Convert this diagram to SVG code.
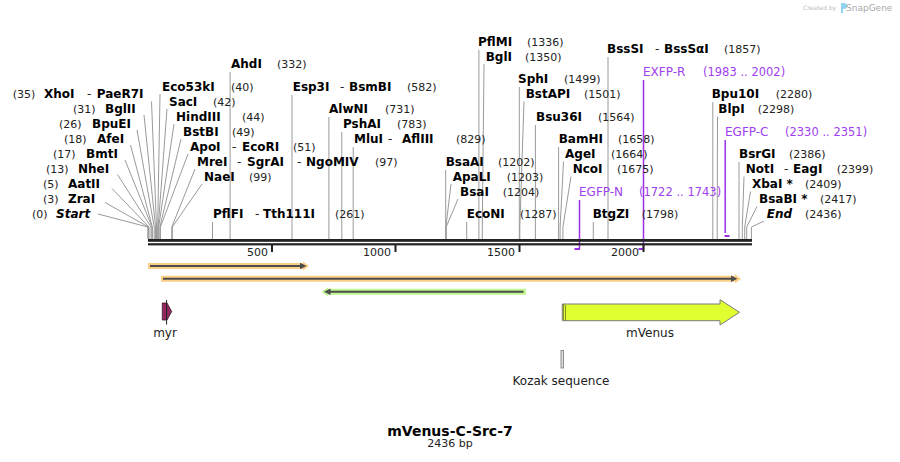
<svg xmlns="http://www.w3.org/2000/svg" width="900" height="462" viewBox="0 0 900 462">
<style>
text{font-family:"DejaVu Sans",Verdana,sans-serif}
.n{font-size:12px;font-weight:bold;fill:#000}
.i{font-style:italic}
.p{font-size:11px;fill:#222}
.d{font-size:12px;fill:#222}
.pr{font-size:12px;fill:#a040f0}
.prn{font-size:11.5px;fill:#a040f0}
.f{font-size:12px;fill:#222;text-anchor:middle}
.s{font-size:11px;fill:#222;text-anchor:end}
.ld{stroke:#9a9a9a;stroke-width:1;fill:none}
.pl{stroke:#9b30e8;stroke-width:1.5;fill:none}
.pb{fill:#9b30e8}
.bb{fill:#222}
.tk{stroke:#222;stroke-width:2}
.ob{fill:#fccf86}
.gb{fill:#c0f590}
.dk{stroke:#4d4d4d;stroke-width:2;fill:none}
.dkh{fill:#4d4d4d}
</style>
<rect x="0" y="0" width="900" height="462" fill="#fff"/>

<g id="logo">
<text x="803" y="10" style="font-size:6px;fill:#bbb">Created by</text>
<path d="M841,3 h3 a3,3 0 0 1 0,6 h-1 v4 h-2 z" fill="#8fd3f2"/>
<text x="846" y="11" style="font-size:9px;fill:#aaa">SnapGene</text>
</g>

<g id="connectors">
<!-- left cluster leaders -->
<path class="ld" d="M151.5,101.5 L156.5,227 M144,115 L155.5,227 M137,130 L154.2,227 M130.5,145 L152.3,227 M125,160 L152,227 M117.5,174.5 L151,227 M112,188.5 L149,227 M105,202.5 L148.5,227 M98,214 L147.8,227"/>
<path class="ld" d="M160,94 L157.7,227 M167,109 L158.2,227 M174,124 L158.7,227 M181,139 L159.9,227 M188,154 L160.4,227 M195,169 L171.8,227 M202,184 L172.3,227"/>
<path class="ld" d="M147.8,227V239 M148.5,227V239 M149,227V239 M151,227V239 M152,227V239 M152.3,227V239 M154.2,227V239 M155.5,227V239 M156.5,227V239 M157.7,227V239 M158.2,227V239 M158.7,227V239 M159.9,227V239 M160.4,227V239 M171.8,227V239 M172.3,227V239"/>
<!-- single verticals -->
<path class="ld" d="M212.5,222V239 M230.1,72V239 M292,95V239 M328.9,117V239 M341.8,132V239 M353.2,147V239 M445.7,170V239 M466.7,222V239 M478.9,50V239 M519.3,87V239 M535.4,125V239 M558.6,147V239 M593.3,222V239 M608,57V239 M712.8,102V239 M739,162V239"/>
<!-- middle / right leaders -->
<path class="ld" d="M451,184 L445.9,227 M458,199 L446.2,227 M445.9,227V239 M446.2,227V239"/>
<path class="ld" d="M484,64 L482.3,227 M482.3,227V239 M524,101.5 L519.8,227 M519.8,227V239"/>
<path class="ld" d="M563.5,161.5 L560.1,227 M571,176.5 L562.9,227 M560.1,227V239 M562.9,227V239"/>
<path class="ld" d="M717.5,116.5 L717.2,227 M717.2,227V239 M744,176.5 L742.3,227 M750.5,191.5 L744.7,227 M757,206.5 L746.7,227 M764,221 L751.4,227 M742.3,227V239 M744.7,227V239 M746.7,227V239 M751.4,227V239"/>
<!-- primers -->
<path class="pl" d="M579.5,200V249 M643.5,80V249 M725.2,140V233"/>
<rect class="pb" x="574.5" y="248" width="5.5" height="2"/>
<rect class="pb" x="638.5" y="248" width="5.5" height="2"/>
<rect class="pb" x="724.5" y="235" width="5" height="2"/>
</g>

<g id="backbone">
<rect class="bb" x="148" y="239" width="604" height="2.8"/>
<rect class="bb" x="148" y="243.2" width="604" height="2.2"/>
<line class="tk" x1="272" y1="245" x2="272" y2="252"/>
<line class="tk" x1="395.5" y1="245" x2="395.5" y2="252"/>
<line class="tk" x1="519.5" y1="245" x2="519.5" y2="252"/>
<line class="tk" x1="643.5" y1="245" x2="643.5" y2="252"/>
<text class="s" x="268" y="256">500</text>
<text class="s" x="391" y="256">1000</text>
<text class="s" x="515" y="256">1500</text>
<text class="s" x="639" y="256">2000</text>
</g>

<!-- left column labels -->
<g id="site-xhoi"><text class="p" x="12.7" y="98.3">(35)</text><text class="n" x="44" y="98.3">XhoI</text><text class="d" x="87" y="98.3">-</text><text class="n" x="96.7" y="98.3">PaeR7I</text></g>
<g id="site-bglii"><text class="p" x="73" y="113.3">(31)</text><text class="n" x="105" y="113.3">BglII</text></g>
<g id="site-bpuei"><text class="p" x="59" y="128.3">(26)</text><text class="n" x="92" y="128.3">BpuEI</text></g>
<g id="site-afei"><text class="p" x="64" y="143.3">(18)</text><text class="n" x="97" y="143.3">AfeI</text></g>
<g id="site-bmti"><text class="p" x="53" y="158.3">(17)</text><text class="n" x="86" y="158.3">BmtI</text></g>
<g id="site-nhei"><text class="p" x="46" y="173.3">(13)</text><text class="n" x="78" y="173.3">NheI</text></g>
<g id="site-aatii"><text class="p" x="43" y="188.3">(5)</text><text class="n" x="68" y="188.3">AatII</text></g>
<g id="site-zrai"><text class="p" x="43" y="203.3">(3)</text><text class="n" x="68" y="203.3">ZraI</text></g>
<g id="site-start"><text class="p" x="32" y="218.3">(0)</text><text class="n i" x="56" y="218.3">Start</text></g>

<!-- right of left cluster -->
<g id="site-eco53ki"><text class="n" x="162" y="90.8">Eco53kI</text><text class="p" x="231" y="90.8">(40)</text></g>
<g id="site-saci"><text class="n" x="169" y="105.8">SacI</text><text class="p" x="213" y="105.8">(42)</text></g>
<g id="site-hindiii"><text class="n" x="176" y="120.8">HindIII</text><text class="p" x="242" y="120.8">(44)</text></g>
<g id="site-bstbi"><text class="n" x="183" y="135.8">BstBI</text><text class="p" x="232" y="135.8">(49)</text></g>
<g id="site-apoi"><text class="n" x="190" y="150.8">ApoI</text><text class="d" x="232" y="150.8">-</text><text class="n" x="242" y="150.8">EcoRI</text><text class="p" x="293" y="150.8">(51)</text></g>
<g id="site-mrei"><text class="n" x="197" y="165.8">MreI</text><text class="d" x="237" y="165.8">-</text><text class="n" x="247" y="165.8">SgrAI</text><text class="d" x="297" y="165.8">-</text><text class="n" x="306" y="165.8">NgoMIV</text><text class="p" x="375" y="165.8">(97)</text></g>
<g id="site-naei"><text class="n" x="204" y="180.8">NaeI</text><text class="p" x="249" y="180.8">(99)</text></g>

<g id="site-ahdi"><text class="n" x="231" y="68.3">AhdI</text><text class="p" x="277" y="68.3">(332)</text></g>
<g id="site-esp3i"><text class="n" x="292.7" y="90.8">Esp3I</text><text class="d" x="340" y="90.8">-</text><text class="n" x="349" y="90.8">BsmBI</text><text class="p" x="407" y="90.8">(582)</text></g>
<g id="site-alwni"><text class="n" x="329" y="113.3">AlwNI</text><text class="p" x="385" y="113.3">(731)</text></g>
<g id="site-pshai"><text class="n" x="343" y="128.3">PshAI</text><text class="p" x="397" y="128.3">(783)</text></g>
<g id="site-mlui"><text class="n" x="354" y="143.3">MluI</text><text class="d" x="388" y="143.3">-</text><text class="n" x="402" y="143.3">AflIII</text><text class="p" x="456" y="143.3">(829)</text></g>
<g id="site-pflfi"><text class="n" x="213" y="218.3">PflFI</text><text class="d" x="255" y="218.3">-</text><text class="n" x="263" y="218.3">Tth111I</text><text class="p" x="335" y="218.3">(261)</text></g>

<!-- middle -->
<g id="site-pflmi"><text class="n" x="478" y="45.8">PflMI</text><text class="p" x="527" y="45.8">(1336)</text></g>
<g id="site-bgli"><text class="n" x="485.7" y="60.8">BglI</text><text class="p" x="525" y="60.8">(1350)</text></g>
<g id="site-sphi"><text class="n" x="518" y="83.3">SphI</text><text class="p" x="564" y="83.3">(1499)</text></g>
<g id="site-bstapi"><text class="n" x="525.7" y="98.3">BstAPI</text><text class="p" x="584" y="98.3">(1501)</text></g>
<g id="site-bsu36i"><text class="n" x="536" y="120.8">Bsu36I</text><text class="p" x="598" y="120.8">(1564)</text></g>
<g id="site-bamhi"><text class="n" x="558.7" y="143.3">BamHI</text><text class="p" x="618" y="143.3">(1658)</text></g>
<g id="site-agei"><text class="n" x="565" y="158.3">AgeI</text><text class="p" x="611" y="158.3">(1664)</text></g>
<g id="site-ncoi"><text class="n" x="572.7" y="173.3">NcoI</text><text class="p" x="617" y="173.3">(1675)</text></g>
<g id="site-btgzi"><text class="n" x="592.7" y="218.3">BtgZI</text><text class="p" x="641.7" y="218.3">(1798)</text></g>
<g id="site-bsssi"><text class="n" x="607" y="53.3">BssSI</text><text class="d" x="655" y="53.3">-</text><text class="n" x="664" y="53.3">BssSαI</text><text class="p" x="724" y="53.3">(1857)</text></g>
<g id="site-bsaai"><text class="n" x="445.7" y="165.8">BsaAI</text><text class="p" x="498" y="165.8">(1202)</text></g>
<g id="site-apali"><text class="n" x="452.7" y="180.8">ApaLI</text><text class="p" x="506.7" y="180.8">(1203)</text></g>
<g id="site-bsai"><text class="n" x="460" y="195.8">BsaI</text><text class="p" x="502.7" y="195.8">(1204)</text></g>
<g id="site-econi"><text class="n" x="466.7" y="218.3">EcoNI</text><text class="p" x="520" y="218.3">(1287)</text></g>

<!-- primers -->
<g id="primer-egfp-n"><text class="pr" x="579" y="195.8">EGFP-N</text><text class="prn" x="639" y="195.8">(1722 .. 1743)</text></g>
<g id="primer-exfp-r"><text class="pr" x="643" y="75.8">EXFP-R</text><text class="prn" x="703" y="75.8">(1983 .. 2002)</text></g>
<g id="primer-egfp-c"><text class="pr" x="725" y="135.8">EGFP-C</text><text class="prn" x="785" y="135.8">(2330 .. 2351)</text></g>

<!-- right cluster -->
<g id="site-bpu10i"><text class="n" x="711.7" y="98.3">Bpu10I</text><text class="p" x="775.7" y="98.3">(2280)</text></g>
<g id="site-blpi"><text class="n" x="718.3" y="113.3">BlpI</text><text class="p" x="757.7" y="113.3">(2298)</text></g>
<g id="site-bsrgi"><text class="n" x="739" y="158.3">BsrGI</text><text class="p" x="789" y="158.3">(2386)</text></g>
<g id="site-noti"><text class="n" x="745.7" y="173.3">NotI</text><text class="d" x="784" y="173.3">-</text><text class="n" x="793" y="173.3">EagI</text><text class="p" x="836.7" y="173.3">(2399)</text></g>
<g id="site-xbai"><text class="n" x="752" y="188.3">XbaI *</text><text class="p" x="805" y="188.3">(2409)</text></g>
<g id="site-bsabi"><text class="n" x="759" y="203.3">BsaBI *</text><text class="p" x="820" y="203.3">(2417)</text></g>
<g id="site-end"><text class="n i" x="766.7" y="218.3">End</text><text class="p" x="805" y="218.3">(2436)</text></g>

<!-- features -->
<g id="feature-orf1">
<polygon class="ob" points="148,263 303,263 303,261.5 309,266 303,270.5 303,269 148,269"/>
<line class="dk" x1="150" y1="266" x2="301" y2="266"/>
<polygon class="dkh" points="300,262.8 306.5,266 300,269.2"/>
</g>
<g id="feature-orf2">
<polygon class="ob" points="161,275.7 735,275.7 735,274.2 741,278.7 735,283.2 735,281.7 161,281.7"/>
<line class="dk" x1="163" y1="278.7" x2="732" y2="278.7"/>
<polygon class="dkh" points="731,275.5 737.5,278.7 731,281.9"/>
</g>
<g id="feature-orf3">
<polygon class="gb" points="526,288.7 328,288.7 328,287.2 321.7,291.7 328,296.2 328,294.7 526,294.7"/>
<line class="dk" x1="329" y1="291.7" x2="523.5" y2="291.7"/>
<polygon class="dkh" points="330.5,288.5 324,291.7 330.5,294.9"/>
</g>
<g id="feature-myr">
<polygon points="162.3,303 167,303 171.7,311.5 167,320 162.3,320" fill="#93275f" stroke="#3a1a2a" stroke-width="0.8"/>
<line x1="166.6" y1="300" x2="166.6" y2="324.5" stroke="#222" stroke-width="1"/>
<text class="f" x="165" y="337">myr</text>
</g>
<g id="feature-mvenus">
<polygon points="562.3,304 720,304 720,299.7 739.5,312.3 720,325 720,320.7 562.3,320.7" fill="#e2ff32" stroke="#7a7a7a" stroke-width="1"/>
<line x1="563.5" y1="304.5" x2="563.5" y2="320.3" stroke="#222" stroke-width="1" stroke-dasharray="1 1"/>
<line x1="565.5" y1="305.5" x2="565.5" y2="320.3" stroke="#222" stroke-width="1" stroke-dasharray="1 1"/>
<text class="f" x="650" y="337">mVenus</text>
</g>
<g id="feature-kozak">
<rect x="561" y="350.5" width="2.5" height="17.5" fill="#ddd" stroke="#777" stroke-width="0.8"/>
<text class="f" x="561" y="385">Kozak sequence</text>
</g>

<g id="title">
<text x="450" y="436" style="font-size:14px;font-weight:bold;fill:#000;text-anchor:middle">mVenus-C-Src-7</text>
<text x="450" y="447.3" style="font-size:11px;fill:#222;text-anchor:middle">2436 bp</text>
</g>
</svg>
